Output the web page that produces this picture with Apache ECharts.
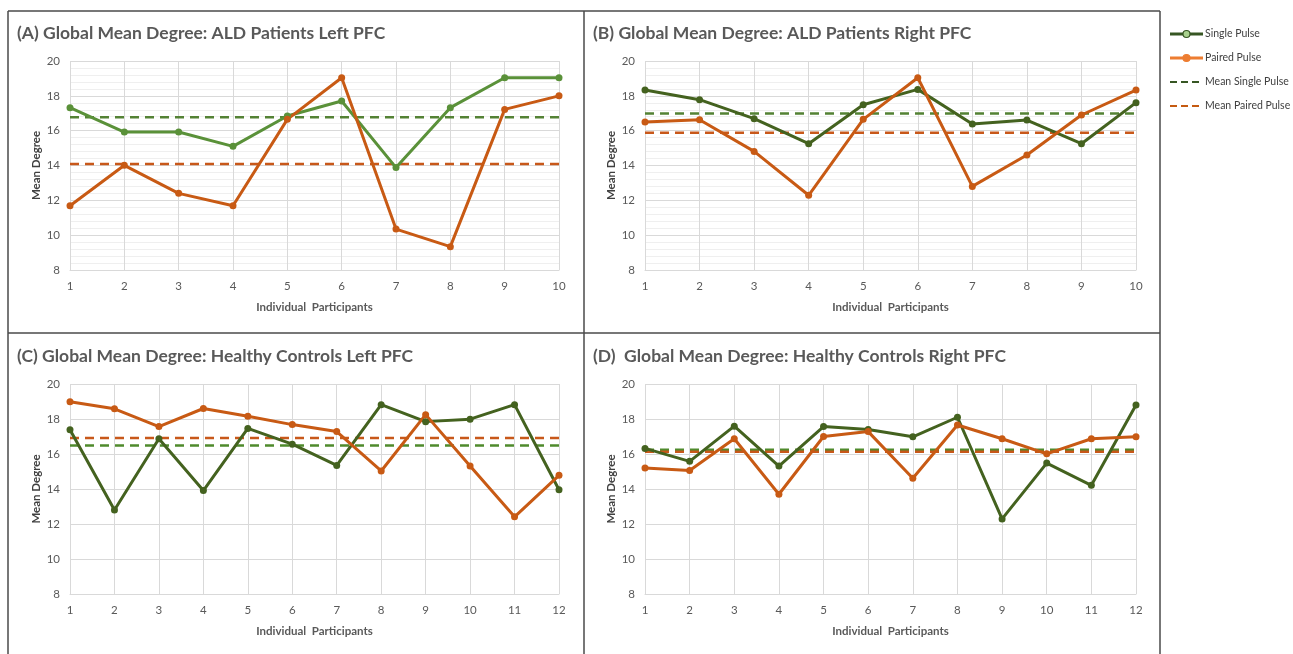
<!DOCTYPE html>
<html>
<head>
<meta charset="utf-8">
<script src="https://cdn.jsdelivr.net/npm/echarts@6/dist/echarts.min.js"></script>
<style>
html,body{margin:0;padding:0;background:#fff;}
#chart{width:1293px;height:654px;}
</style>
</head>
<body>
<div id="chart"></div>
<script>
// ---- Data ----
const participantsALD = ['1','2','3','4','5','6','7','8','9','10'];
const participantsHC = ['1','2','3','4','5','6','7','8','9','10','11','12'];

const singleA = [17.32, 15.92, 15.92, 15.10, 16.84, 17.70, 13.88, 17.32, 19.04, 19.04];
const pairedA = [11.69, 14.01, 12.40, 11.69, 16.65, 19.04, 10.35, 9.34, 17.22, 18.00];

const singleB = [18.33, 17.78, 16.69, 15.25, 17.49, 18.37, 16.38, 16.61, 15.25, 17.61];
const pairedB = [16.50, 16.63, 14.81, 12.29, 16.65, 19.04, 12.80, 14.60, 16.90, 18.33];

const singleC = [17.38, 12.80, 16.87, 13.91, 17.46, 16.56, 15.35, 18.82, 17.85, 17.99, 18.82, 13.96];
const pairedC = [18.99, 18.58, 17.57, 18.60, 18.16, 17.68, 17.28, 15.03, 18.25, 15.31, 12.41, 14.78];

const singleD = [16.32, 15.58, 17.59, 15.31, 17.57, 17.40, 16.98, 18.10, 12.29, 15.48, 14.21, 18.80];
const pairedD = [15.20, 15.06, 16.87, 13.70, 17.00, 17.28, 14.61, 17.66, 16.87, 16.01, 16.87, 16.98];

const meanSingle = [16.77, 16.98, 16.49, 16.25];
const meanPaired = [14.08, 15.88, 16.91, 16.13];

const panelTitles = [
  '(A) Global Mean Degree: ALD Patients Left PFC',
  '(B) Global Mean Degree: ALD Patients Right PFC',
  '(C) Global Mean Degree: Healthy Controls Left PFC',
  '(D)  Global Mean Degree: Healthy Controls Right PFC'
];
const yTicks = [8, 10, 12, 14, 16, 18, 20];
const seriesNames = ['Single Pulse', 'Paired Pulse', 'Mean Single Pulse', 'Mean Paired Pulse'];

// ---- Layout / style ----
const FONT = 'Lato';
const panels = [
  {cats: participantsALD, single: singleA, paired: pairedA, left: 70, right: 559, top: 61, bottom: 270, tx: 17, ty: 33, minor: true, green: '#5a9139', meanGreen: '#548235'},
  {cats: participantsALD, single: singleB, paired: pairedB, left: 645, right: 1136, top: 61, bottom: 270, tx: 593, ty: 33, minor: true, green: '#44621f', meanGreen: '#548235'},
  {cats: participantsHC, single: singleC, paired: pairedC, left: 70, right: 559, top: 384, bottom: 594, tx: 17, ty: 356, minor: false, green: '#44621f', meanGreen: '#4f8a2c'},
  {cats: participantsHC, single: singleD, paired: pairedD, left: 645, right: 1136, top: 384, bottom: 594, tx: 593, ty: 356, minor: false, green: '#44621f', meanGreen: '#4f8a2c'}
];
const ORANGE = '#c85a14';
const MEAN_ORANGE = '#c8581a';
const H = 654;

const grids = [], xAxes = [], yAxes = [], series = [], graphics = [];
panels.forEach((p, i) => {
  grids.push({left: p.left, width: p.right - p.left, top: p.top, height: p.bottom - p.top, containLabel: false});
  xAxes.push({
    type: 'category', gridIndex: i, data: p.cats, boundaryGap: false,
    name: 'Individual  Participants', nameLocation: 'middle', nameGap: 31,
    nameTextStyle: {fontFamily: FONT, fontWeight: 'bold', fontSize: 11.5, color: '#595959'},
    axisLine: {show: true, lineStyle: {color: '#d9d9d9', width: 1}},
    axisTick: {show: false},
    axisLabel: {fontFamily: FONT, fontSize: 11.5, color: '#595959', margin: 10},
    splitLine: {show: true, lineStyle: {color: '#d9d9d9', width: 1}}
  });
  yAxes.push({
    type: 'value', gridIndex: i, min: yTicks[0], max: yTicks[yTicks.length - 1], interval: 2,
    name: 'Mean Degree', nameLocation: 'middle', nameGap: 28, nameRotate: 90,
    nameTextStyle: {fontFamily: FONT, fontWeight: 'bold', fontSize: 11.5, color: '#404040'},
    axisLine: {show: false}, axisTick: {show: false},
    axisLabel: {fontFamily: FONT, fontSize: 11.5, color: '#595959', margin: 10},
    splitLine: {show: true, lineStyle: {color: '#d9d9d9', width: 1}},
    minorTick: {show: p.minor, splitNumber: 5, length: 0},
    minorSplitLine: {show: p.minor, lineStyle: {color: '#efefef', width: 1}}
  });
  series.push({
    name: seriesNames[0], type: 'line', xAxisIndex: i, yAxisIndex: i, data: p.single,
    symbol: 'circle', symbolSize: 7, z: 4,
    lineStyle: {color: p.green, width: 3}, itemStyle: {color: p.green}
  });
  series.push({
    name: seriesNames[1], type: 'line', xAxisIndex: i, yAxisIndex: i, data: p.paired,
    symbol: 'circle', symbolSize: 7, z: 4,
    lineStyle: {color: ORANGE, width: 3}, itemStyle: {color: ORANGE}
  });
  series.push({
    name: seriesNames[2], type: 'line', xAxisIndex: i, yAxisIndex: i, data: p.cats.map(() => meanSingle[i]),
    symbol: 'none', z: 3,
    lineStyle: {color: p.meanGreen, width: 2.5, type: [9, 6]}, itemStyle: {color: p.meanGreen}
  });
  series.push({
    name: seriesNames[3], type: 'line', xAxisIndex: i, yAxisIndex: i, data: p.cats.map(() => meanPaired[i]),
    symbol: 'none', z: 3,
    lineStyle: {color: MEAN_ORANGE, width: 2.5, type: [9, 6]}, itemStyle: {color: MEAN_ORANGE}
  });
  graphics.push({
    type: 'text', x: p.tx, y: p.ty, silent: true,
    style: {text: panelTitles[i], font: 'bold 17.5px ' + FONT, fill: '#595959', verticalAlign: 'middle'}
  });
});

// frame
const frameStroke = {stroke: '#4a4a4a', lineWidth: 1.5};
[[8, 11, 1160, 11], [8, 11, 8, H], [1160, 11, 1160, H], [584, 11, 584, H], [8, 333, 1160, 333]].forEach(s => {
  graphics.push({type: 'line', silent: true, shape: {x1: s[0], y1: s[1], x2: s[2], y2: s[3]}, style: frameStroke});
});

// legend (drawn as graphic)
const legendItems = [
  {name: seriesNames[0], color: '#375623', dash: null, marker: {fill: '#a9d18e', stroke: '#375623'}},
  {name: seriesNames[1], color: '#ed7d31', dash: null, marker: {fill: '#ed7d31', stroke: '#ed7d31'}},
  {name: seriesNames[2], color: '#375623', dash: [7, 4], marker: null},
  {name: seriesNames[3], color: '#c55a11', dash: [7, 4], marker: null}
];
legendItems.forEach((it, k) => {
  const y = 34 + k * 24;
  graphics.push({type: 'line', silent: true, shape: {x1: 1170, y1: y, x2: 1203, y2: y},
    style: {stroke: it.color, lineWidth: it.dash ? 2 : 3, lineDash: it.dash || null}});
  if (it.marker) {
    graphics.push({type: 'circle', silent: true, shape: {cx: 1186.5, cy: y, r: 3.5},
      style: {fill: it.marker.fill, stroke: it.marker.stroke, lineWidth: 1.2}});
  }
  graphics.push({type: 'text', silent: true, x: 1205, y: y,
    style: {text: it.name, font: '10.5px ' + FONT, fill: '#404040', verticalAlign: 'middle'}});
});

const chart = echarts.init(document.getElementById('chart'), null, {renderer: 'canvas'});
chart.setOption({
  backgroundColor: '#ffffff',
  animation: false,
  grid: grids,
  xAxis: xAxes,
  yAxis: yAxes,
  series: series,
  graphic: graphics
});
</script>
</body>
</html>
